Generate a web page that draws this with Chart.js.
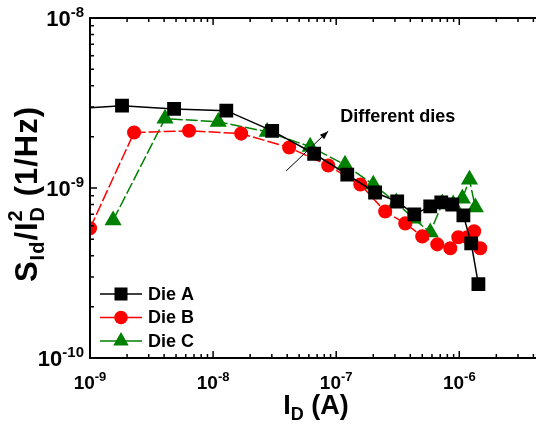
<!DOCTYPE html>
<html>
<head>
<meta charset="utf-8">
<script src="https://cdn.jsdelivr.net/npm/chart.js"></script>
<style>
  html, body { margin: 0; padding: 0; background: #fff; }
  #wrap { width: 536px; height: 426px; }
</style>
</head>
<body>
<div id="wrap"><canvas id="myGraph" width="536" height="426"></canvas></div>
<script>
// Drain current (A) and normalized noise (1/Hz)
const dieAX = [8e-10, 1.82e-9, 4.82e-9, 1.28e-8, 3.02e-8, 6.62e-8, 1.23e-7, 2.07e-7, 3.13e-7, 4.31e-7, 5.81e-7, 7.14e-7, 8.77e-7, 1.08e-6, 1.25e-6, 1.43e-6];
const dieAY = [2.94e-9, 3.05e-9, 2.92e-9, 2.85e-9, 2.17e-9, 1.59e-9, 1.2e-9, 9.41e-10, 8.33e-10, 7.0e-10, 7.79e-10, 8.22e-10, 8.0e-10, 6.9e-10, 4.72e-10, 2.72e-10];

const dieBX = [1e-9, 2.28e-9, 6.38e-9, 1.69e-8, 4.15e-8, 8.61e-8, 1.57e-7, 2.5e-7, 3.64e-7, 5.0e-7, 6.62e-7, 8.45e-7, 9.82e-7, 1.16e-6, 1.32e-6, 1.48e-6];
const dieBY = [5.79e-10, 2.12e-9, 2.17e-9, 2.09e-9, 1.73e-9, 1.355e-9, 1.048e-9, 7.28e-10, 6.19e-10, 5.19e-10, 4.66e-10, 4.42e-10, 5.13e-10, 5.13e-10, 5.56e-10, 4.42e-10];

const dieCX = [1.54e-9, 4.07e-9, 1.1e-8, 2.75e-8, 6.15e-8, 1.18e-7, 2.0e-7, 3.08e-7, 4.23e-7, 5.81e-7, 7.28e-7, 8.93e-7, 1.06e-6, 1.21e-6, 1.35e-6];
const dieCY = [6.45e-10, 2.56e-9, 2.45e-9, 2.14e-9, 1.75e-9, 1.37e-9, 1.048e-9, 8.22e-10, 6.62e-10, 5.48e-10, 8.11e-10, 8.0e-10, 8.68e-10, 1.12e-9, 7.69e-10];

const seriesNames = ['Die A', 'Die B', 'Die C'];
const xDecades = [-9, -8, -7, -6];
const yDecades = [-10, -9, -8];

// annotation arrow, in data units
const arrowFrom = [3.92e-8, 1.26e-9];
const arrowTo = [8.61e-8, 2.16e-9];
const noteAt = [1.08e-7, 2.45e-9];

const FONT = '"Liberation Sans", Arial, sans-serif';

function pts(xs, ys) {
  return xs.map((x, i) => ({ x: x, y: ys[i] }));
}

function drawMarker(ctx, style, x, y, r, color) {
  ctx.fillStyle = color;
  ctx.beginPath();
  if (style === 'rect') {
    const s = r * Math.SQRT1_2;
    ctx.rect(x - s, y - s, 2 * s, 2 * s);
  } else if (style === 'circle') {
    ctx.arc(x, y, r, 0, Math.PI * 2);
  } else {
    ctx.moveTo(x, y - r);
    ctx.lineTo(x + r * 0.866, y + r / 2);
    ctx.lineTo(x - r * 0.866, y + r / 2);
    ctx.closePath();
  }
  ctx.fill();
}

// "10" with a raised exponent
function drawPow(ctx, exp, ax, base, align, big, small) {
  ctx.font = 'bold ' + big + 'px ' + FONT;
  const w1 = ctx.measureText('10').width;
  ctx.font = 'bold ' + small + 'px ' + FONT;
  const w2 = ctx.measureText(String(exp)).width;
  let x0 = align === 'right' ? ax - w1 - w2 : ax - (w1 + w2) / 2;
  ctx.textAlign = 'left';
  ctx.textBaseline = 'alphabetic';
  ctx.font = 'bold ' + big + 'px ' + FONT;
  ctx.fillText('10', x0, base);
  ctx.font = 'bold ' + small + 'px ' + FONT;
  ctx.fillText(String(exp), x0 + w1, base - big * 0.42);
}

// pieces: [text, size, shift, stackWithPrevious]
function drawRich(ctx, parts, x, base) {
  let cx = x, lastStart = x, lastEnd = x;
  parts.forEach(p => {
    ctx.font = 'bold ' + p[1] + 'px ' + FONT;
    const w = ctx.measureText(p[0]).width;
    const start = p[3] ? lastStart : cx;
    ctx.fillText(p[0], start, base + p[2]);
    lastStart = start;
    cx = Math.max(p[3] ? lastEnd : cx, start + w);
    lastEnd = cx;
  });
  return cx - x;
}

function richWidth(ctx, parts) {
  let cx = 0, lastStart = 0, lastEnd = 0;
  parts.forEach(p => {
    ctx.font = 'bold ' + p[1] + 'px ' + FONT;
    const w = ctx.measureText(p[0]).width;
    const start = p[3] ? lastStart : cx;
    lastStart = start;
    cx = Math.max(p[3] ? lastEnd : cx, start + w);
    lastEnd = cx;
  });
  return cx;
}

const decorations = {
  id: 'decorations',
  afterDraw(chart) {
    const ctx = chart.ctx;
    const a = chart.chartArea;
    const xs = chart.scales.x, ys = chart.scales.y;
    ctx.save();
    ctx.fillStyle = '#000';
    ctx.strokeStyle = '#000';

    // inward tick marks, log minors
    ctx.lineWidth = 1.5;
    ctx.beginPath();
    for (let e = -10; e <= -5; e++) {
      for (let m = 1; m <= 9; m++) {
        const v = m * Math.pow(10, e);
        const len = m === 1 ? 7 : 4;
        if (v >= xs.min && v <= xs.max) {
          const px = xs.getPixelForValue(v);
          ctx.moveTo(px, a.bottom); ctx.lineTo(px, a.bottom - len);
          ctx.moveTo(px, a.top); ctx.lineTo(px, a.top + len);
        }
        if (v >= ys.min && v <= ys.max) {
          const py = ys.getPixelForValue(v);
          ctx.moveTo(a.left, py); ctx.lineTo(a.left + len, py);
        }
      }
    }
    ctx.stroke();

    // frame (right edge falls outside the picture)
    ctx.lineWidth = 2;
    ctx.beginPath();
    ctx.moveTo(chart.width + 2, a.top);
    ctx.lineTo(a.left, a.top);
    ctx.lineTo(a.left, a.bottom);
    ctx.lineTo(chart.width + 2, a.bottom);
    ctx.stroke();

    // tick labels
    xDecades.forEach(e => {
      drawPow(ctx, e, xs.getPixelForValue(Math.pow(10, e)), a.bottom + 31, 'center', 19, 13);
    });
    yDecades.forEach(e => {
      drawPow(ctx, e, a.left - 6, ys.getPixelForValue(Math.pow(10, e)) + 8, 'right', 22, 15);
    });

    // x title: I_D (A)
    ctx.textAlign = 'left';
    ctx.textBaseline = 'alphabetic';
    const xt = [['I', 27, 0], ['D', 18, 6], [' (A)', 27, 0]];
    const xw = richWidth(ctx, xt);
    drawRich(ctx, xt, 316 - xw / 2, 414);

    // y title: S_Id / I_D^2 (1/Hz)
    const yt = [['S', 31, 0], ['Id', 20, 7], ['/I', 31, 0], ['D', 20, 7], ['2', 20, -15, true], [' (1/Hz)', 31, 0]];
    ctx.save();
    ctx.letterSpacing = '1px';
    const yw = richWidth(ctx, yt);
    ctx.translate(37, 194);
    ctx.rotate(-Math.PI / 2);
    drawRich(ctx, yt, -yw / 2, 0);
    ctx.restore();

    // legend
    chart.data.datasets.forEach((ds, i) => {
      const ly = 294 + i * 23.5;
      ctx.strokeStyle = ds.borderColor;
      ctx.lineWidth = 1.5;
      ctx.beginPath();
      ctx.moveTo(100, ly); ctx.lineTo(142, ly);
      ctx.stroke();
      drawMarker(ctx, ds.pointStyle, 121, ly, ds.pointRadius + 0.5, ds.backgroundColor);
      ctx.fillStyle = '#000';
      ctx.font = 'bold 18px ' + FONT;
      ctx.textBaseline = 'middle';
      ctx.fillText(ds.label, 148, ly + 1);
    });

    // annotation
    const x1 = xs.getPixelForValue(arrowFrom[0]), y1 = ys.getPixelForValue(arrowFrom[1]);
    const x2 = xs.getPixelForValue(arrowTo[0]), y2 = ys.getPixelForValue(arrowTo[1]);
    ctx.strokeStyle = '#000';
    ctx.lineWidth = 1;
    ctx.beginPath();
    ctx.moveTo(x1, y1); ctx.lineTo(x2, y2);
    ctx.stroke();
    const ang = Math.atan2(y2 - y1, x2 - x1);
    ctx.beginPath();
    ctx.moveTo(x2, y2);
    ctx.lineTo(x2 - 9 * Math.cos(ang - 0.35), y2 - 9 * Math.sin(ang - 0.35));
    ctx.lineTo(x2 - 9 * Math.cos(ang + 0.35), y2 - 9 * Math.sin(ang + 0.35));
    ctx.closePath();
    ctx.fillStyle = '#000';
    ctx.fill();
    ctx.font = 'bold 18px ' + FONT;
    ctx.textBaseline = 'alphabetic';
    ctx.fillText('Different dies', xs.getPixelForValue(noteAt[0]), ys.getPixelForValue(noteAt[1]));

    ctx.restore();
  }
};

const graph = document.getElementById('myGraph');

new Chart(graph, {
  type: 'line',
  data: {
    datasets: [{
      label: seriesNames[0],
      data: pts(dieAX, dieAY),
      borderColor: '#000000',
      backgroundColor: '#000000',
      pointStyle: 'rect',
      pointRadius: 8.7,
      borderWidth: 1.5,
      clip: 0
    }, {
      label: seriesNames[1],
      data: pts(dieBX, dieBY),
      borderColor: '#ff0000',
      backgroundColor: '#ff0000',
      pointStyle: 'circle',
      pointRadius: 6.3,
      borderWidth: 1.5,
      borderDash: [12, 3],
      clip: 0
    }, {
      label: seriesNames[2],
      data: pts(dieCX, dieCY),
      borderColor: '#008000',
      backgroundColor: '#008000',
      pointStyle: 'triangle',
      pointRadius: 8.4,
      borderWidth: 1.5,
      borderDash: [12, 3],
      clip: 0
    }]
  },
  options: {
    responsive: false,
    animation: false,
    layout: { autoPadding: false, padding: { left: 90, top: 18, right: 0, bottom: 68 } },
    plugins: { legend: { display: false }, tooltip: { enabled: false } },
    elements: { line: { tension: 0 }, point: { borderWidth: 1 } },
    scales: {
      x: { type: 'logarithmic', min: 1e-9, max: 4.2e-6, display: false },
      y: { type: 'logarithmic', min: 1e-10, max: 1e-8, display: false }
    }
  },
  plugins: [decorations]
});
</script>
</body>
</html>
